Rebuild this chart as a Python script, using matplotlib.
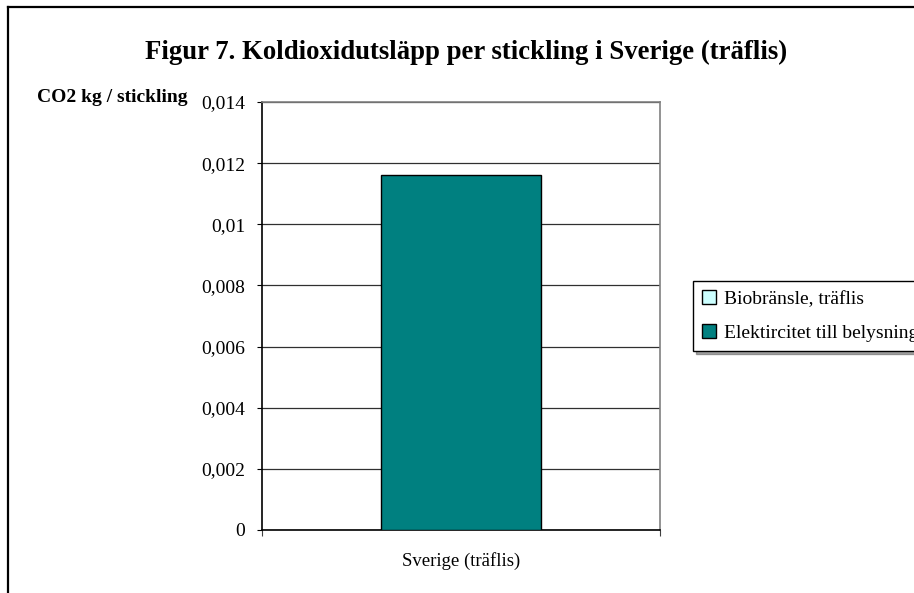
import matplotlib
matplotlib.use("Agg")
import matplotlib.pyplot as plt
from matplotlib.lines import Line2D
from matplotlib.patches import Patch
from matplotlib.ticker import FuncFormatter

plt.rcParams['font.family'] = ['Liberation Serif', 'DejaVu Serif']

# Data
categories = ["Sverige (träflis)"]
series_names = ["Biobränsle, träflis", "Elektircitet till belysning"]
biobransle = [0.0]
elektricitet = [0.0116]
series_colors = ["#CCFFFF", "#008080"]
y_ticks = [0, 0.002, 0.004, 0.006, 0.008, 0.01, 0.012, 0.014]

W, H = 914, 593
fig = plt.figure(figsize=(W / 100, H / 100), dpi=100)

# Outer chart frame (left and top edges visible)
fig.add_artist(Line2D([8 / W, 8 / W], [0, 1 - 7 / H], transform=fig.transFigure,
                      color="black", lw=1.6))
fig.add_artist(Line2D([8 / W, 1], [1 - 7 / H, 1 - 7 / H], transform=fig.transFigure,
                      color="black", lw=1.6))

ax = fig.add_axes([262 / W, 63 / H, 398 / W, 428 / H])

x = list(range(len(categories)))
ax.bar(x, biobransle, width=0.4, color=series_colors[0], edgecolor="black", lw=1, zorder=3)
ax.bar(x, elektricitet, width=0.4, bottom=biobransle, color=series_colors[1],
       edgecolor="black", lw=1, zorder=3)

ax.set_xlim(-0.5, len(categories) - 0.5)
ax.set_ylim(0, 0.014)
ax.set_yticks(y_ticks)
ax.yaxis.set_major_formatter(FuncFormatter(
    lambda v, p: "0" if v == 0 else f"{v:.3f}".rstrip("0").replace(".", ",")))
ax.yaxis.grid(True, color="#303030", lw=0.9, zorder=0)

ax.set_xticks([-0.5, 0.5])
ax.set_xticklabels([])
ax.tick_params(axis="x", direction="out", length=4, color="#404040")
ax.tick_params(axis="y", direction="out", length=3.5, labelsize=14, pad=8.5)
for xi, c in zip(x, categories):
    ax.text(xi, -0.00102, c, ha="center", va="center", fontsize=13.5,
            transform=ax.transData)

ax.spines["left"].set_color("black")
ax.spines["bottom"].set_color("black")
ax.spines["top"].set_color("#808080")
ax.spines["right"].set_color("#808080")
for s in ax.spines.values():
    s.set_linewidth(1.2)

fig.text(466 / W, 1 - 52 / H,
         "Figur 7. Koldioxidutsläpp per stickling i Sverige (träflis)",
         ha="center", va="center", fontsize=19.3, fontweight="bold")
fig.text(37 / W, 1 - 97 / H, "CO2 kg / stickling", ha="left", va="center",
         fontsize=14, fontweight="bold")

handles = [Patch(facecolor=c, edgecolor="black", lw=1) for c in series_colors]
leg = fig.legend(handles, series_names, loc="upper left",
                 bbox_to_anchor=(693 / W, 1 - 281 / H), bbox_transform=fig.transFigure,
                 fontsize=14, frameon=True, fancybox=False, shadow=True,
                 handlelength=0.75, handleheight=0.75, handletextpad=0.4,
                 labelspacing=0.85, borderpad=0.45, borderaxespad=0)
leg.get_frame().set_edgecolor("black")
leg.get_frame().set_linewidth(1)

fig.savefig("out.png", dpi=100)
